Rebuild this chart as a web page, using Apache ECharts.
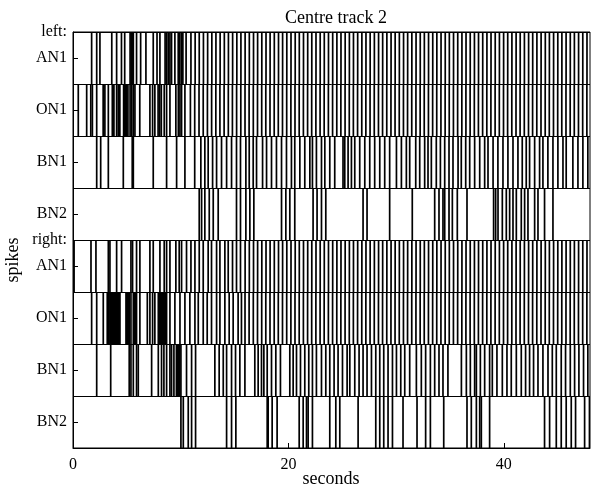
<!DOCTYPE html>
<html>
<head>
<meta charset="utf-8">
<script src="https://cdn.jsdelivr.net/npm/echarts@6/dist/echarts.min.js"></script>
<style>
html,body{margin:0;padding:0;background:#fff;}
#chart{width:599px;height:494px;}
</style>
</head>
<body>
<div id="chart"></div>
<script>
// Row labels (top to bottom) and group labels
const rowLabels = ['AN1', 'ON1', 'BN1', 'BN2', 'AN1', 'ON1', 'BN1', 'BN2'];
const groupLabels = ['left:', 'right:'];
const xTicks = [0, 20, 40];

// Spike times in seconds, one array per row
const leftAN1 = [1.73, 2.2, 2.5, 3.6, 4.05, 4.5, 4.8, 5.3, 5.4, 5.5, 5.6, 5.9, 6.28, 6.77, 7.45, 7.8, 8.07, 8.55, 8.7, 8.85, 9.0, 9.15, 9.46, 9.77, 9.9, 10.05, 10.2, 10.5,
  10.95, 11.34, 11.72, 12.11, 12.50, 12.89, 13.27, 13.66, 14.05, 14.43, 14.82, 15.21, 15.59, 15.98, 16.37, 16.76, 17.14, 17.53, 17.92, 18.30, 18.69, 19.08,
  19.46, 19.85, 20.24, 20.63, 21.01, 21.40, 21.79, 22.17, 22.56, 22.95, 23.33, 23.72, 24.11, 24.50, 24.88, 25.27, 25.66, 26.04, 26.43, 26.82, 27.20, 27.59,
  27.98, 28.37, 28.75, 29.14, 29.53, 29.91, 30.30, 30.69, 31.07, 31.46, 31.85, 32.24, 32.62, 33.01, 33.40, 33.78, 34.17, 34.56, 34.94, 35.33, 35.72, 36.11,
  36.49, 36.88, 37.27, 37.65, 38.04, 38.43, 38.81, 39.20, 39.59, 39.98, 40.36, 40.75, 41.14, 41.52, 41.91, 42.30, 42.68, 43.07, 43.46, 43.85, 44.23, 44.62,
  45.01, 45.39, 45.78, 46.17, 46.55, 46.94, 47.33, 47.72];

const leftON1 = [0.49, 1.27, 1.65, 1.8, 2.2, 2.8, 2.96, 3.28, 3.65, 3.72, 3.8, 4.05, 4.2, 4.35, 4.7, 4.8, 4.9, 5.0, 5.1, 5.3, 5.45, 5.6, 5.75, 6.2, 7.14, 7.39, 7.6,
  7.9, 8.05, 8.2, 8.47, 8.69, 9.0, 9.55, 9.78, 9.93, 10.08, 10.39,
  10.90, 11.30, 11.70, 12.09, 12.48, 12.87, 13.26, 13.64, 14.03, 14.42, 14.80, 15.19, 15.58, 15.97, 16.35, 16.74, 17.13, 17.52, 17.90, 18.29, 18.68, 19.06,
  19.45, 19.84, 20.23, 20.61, 21.00, 21.39, 21.78, 22.16, 22.55, 22.94, 23.32, 23.71, 24.10, 24.49, 24.87, 25.26, 25.65, 26.03, 26.42, 26.81, 27.19, 27.58,
  27.97, 28.36, 28.74, 29.13, 29.52, 29.90, 30.29, 30.68, 31.06, 31.45, 31.84, 32.23, 32.61, 33.00, 33.39, 33.77, 34.16, 34.55, 34.93, 35.32, 35.71, 36.10,
  36.48, 36.87, 37.26, 37.64, 38.03, 38.42, 38.80, 39.19, 39.58, 39.97, 40.35, 40.74, 41.13, 41.51, 41.90, 42.29, 42.67, 43.06, 43.45, 43.84, 44.22, 44.61,
  45.00, 45.38, 45.77, 46.16, 46.54, 46.93, 47.32, 47.71];

const leftBN1 = [2.2, 2.57, 3.28, 4.67, 5.5, 5.6, 7.45, 8.69, 9.62, 10.39, 11.3, 11.87, 12.24, 12.55, 12.96, 13.33, 13.79, 14.26, 14.72, 15.18, 15.55,
  16.05, 16.36, 16.73, 17.04, 17.6, 17.97, 18.43, 18.89, 19.36, 19.82, 20.28, 20.59, 21.06, 21.52, 21.99, 22.23, 22.6, 23.07, 23.38, 23.84, 24.3, 25.07,
  25.23, 25.54, 25.85, 26.16, 26.62, 27.09, 27.55, 28.01, 28.48, 28.94, 29.4, 30.03, 30.49, 30.95, 31.26,
  31.82, 32.19, 32.65, 32.96, 33.27, 33.73, 34.11, 34.51, 34.91, 35.28, 35.75, 36.05, 36.46, 36.83, 37.29, 37.76, 38.22, 38.53, 39.0, 39.45, 39.92,
  40.38, 40.85, 41.31, 41.71, 42.08, 42.39, 42.86, 43.32, 43.63, 44.09, 44.56, 45.02, 45.49, 45.79, 46.41, 46.88, 47.34, 47.8];

const leftBN2 = [11.72, 11.94, 12.24, 12.65, 13.02, 13.48, 15.18, 15.55, 16.05, 16.42, 16.79, 19.36, 19.76, 20.13, 20.59, 22.29, 22.66, 23.07, 23.47,
  26.93, 27.3, 29.4, 31.5, 33.58, 33.98, 34.35, 34.51, 34.91, 35.22, 35.68, 36.58, 39.05, 39.24, 39.46, 39.86, 40.23, 40.54, 40.85, 41.16, 41.62,
  41.93, 42.24, 42.86, 43.17, 43.78, 44.56];

const rightAN1 = [0.1, 1.67, 2.13, 3.28, 3.43, 4.05, 4.51, 5.38, 5.53, 5.9, 6.21, 7.14, 7.45, 8.07, 8.47, 8.69, 9.0, 9.55, 9.86, 10.08, 10.54,
  10.95, 11.32, 11.72, 12.09, 12.55, 12.86, 13.33, 13.64, 14.10, 14.41, 14.81, 15.18, 15.55, 15.98, 16.37, 16.76, 17.14, 17.53, 17.92, 18.30, 18.69, 19.08,
  19.46, 19.85, 20.24, 20.63, 21.01, 21.40, 21.79, 22.17, 22.56, 22.95, 23.33, 23.72, 24.11, 24.50, 24.88, 25.27, 25.66, 26.04, 26.43, 26.82, 27.20, 27.59,
  27.98, 28.37, 28.75, 29.14, 29.53, 29.91, 30.30, 30.69, 31.07, 31.46, 31.85, 32.24, 32.62, 33.01, 33.40, 33.78, 34.17, 34.56, 34.94, 35.33, 35.72, 36.11,
  36.49, 36.88, 37.27, 37.65, 38.04, 38.43, 38.81, 39.20, 39.59, 39.98, 40.36, 40.75, 41.14, 41.52, 41.91, 42.30, 42.68, 43.07, 43.46, 43.85, 44.23, 44.62,
  45.01, 45.39, 45.78, 46.17, 46.55, 46.94, 47.33, 47.72];

const rightON1 = [1.73, 2.2, 2.81, 3.18, 3.25, 3.32, 3.43, 3.5, 3.56, 3.62, 3.68, 3.74, 3.8, 3.86, 3.92, 4.05, 4.12, 4.2, 4.28, 4.36, 4.92, 5.0, 5.08,
  5.15, 5.22, 5.38, 5.6, 5.7, 5.8, 5.9, 6.21, 6.9, 7.14, 7.39, 7.6, 7.92, 7.98, 8.04, 8.1, 8.16, 8.22, 8.28, 8.34, 8.4, 8.46, 8.52, 8.58, 8.64, 8.69,
  9.0, 9.46, 9.93, 10.39,
  10.85, 11.32, 11.63, 12.09, 12.46, 12.86, 13.33, 13.64, 14.10, 14.50, 14.87, 15.33, 15.64, 15.97, 16.35, 16.74, 17.13, 17.52, 17.90, 18.29, 18.68, 19.06,
  19.45, 19.84, 20.23, 20.61, 21.00, 21.39, 21.78, 22.16, 22.55, 22.94, 23.32, 23.71, 24.10, 24.49, 24.87, 25.26, 25.65, 26.03, 26.42, 26.81, 27.19, 27.58,
  27.97, 28.36, 28.74, 29.13, 29.52, 29.90, 30.29, 30.68, 31.06, 31.45, 31.84, 32.23, 32.61, 33.00, 33.39, 33.77, 34.16, 34.55, 34.93, 35.32, 35.71, 36.10,
  36.48, 36.87, 37.26, 37.64, 38.03, 38.42, 38.80, 39.19, 39.58, 39.97, 40.35, 40.74, 41.13, 41.51, 41.90, 42.29, 42.67, 43.06, 43.45, 43.84, 44.22, 44.61,
  45.00, 45.38, 45.77, 46.16, 46.54, 46.93, 47.32, 47.71];

const rightBN1 = [2.2, 3.5, 5.22, 5.38, 5.6, 5.9, 6.06, 7.3, 7.92, 8.22, 8.44, 8.69, 9.0, 9.15, 9.37, 9.6, 9.7, 9.8, 9.9, 10.02, 10.54, 11.01, 11.38,
  13.17, 13.57, 13.95, 14.26, 14.72, 15.09, 15.49,
  15.96, 16.88, 17.19, 17.5, 17.72, 18.03, 18.43, 18.83, 19.26, 20.13, 20.44, 20.75, 21.12, 21.52, 21.89, 22.23, 22.6, 23.07, 23.47, 23.84, 24.24,
  24.61, 25.02, 25.45, 25.7, 26.16, 26.56, 26.93, 27.3, 27.71, 28.11, 28.48, 28.85, 29.25, 29.66, 30.03, 30.43, 30.8, 31.26,
  31.88, 32.34, 32.74, 33.18, 33.58, 33.98, 34.35, 34.81, 36.06, 36.52, 36.89, 37.29, 37.45, 37.82, 38.22, 38.68, 38.93, 39.36, 39.86, 40.29, 40.69,
  41.16, 41.62, 42.02, 42.39, 42.76, 43.17, 43.63, 44.1, 44.5, 44.87, 45.33, 45.73, 46.17, 46.57, 46.97, 47.4, 47.8];

const rightBN2 = [10.02, 10.24, 10.7, 11.01, 11.38, 14.26, 14.72, 15.12, 18.03, 18.12, 18.49, 18.95, 21.0, 21.37, 21.68, 21.83, 22.23, 23.84, 24.4,
  24.77, 26.47, 28.11, 28.48, 28.85, 29.25, 29.66, 30.64, 31.94, 32.74, 33.18, 34.42, 36.58, 36.98, 37.45, 37.76, 37.91, 38.68, 43.78, 44.25, 44.87,
  45.33, 45.79, 46.26, 46.66, 47.5, 47.95];

const rows = [leftAN1, leftON1, leftBN1, leftBN2, rightAN1, rightON1, rightBN1, rightBN2];

const spikeData = [];
rows.forEach(function (arr, r) {
  arr.forEach(function (t) { spikeData.push([t, r]); });
});

const FONT = 'Liberation Serif';
const chart = echarts.init(document.getElementById('chart'), null, { renderer: 'canvas' });

function yLabel(v) {
  if (Math.abs(v - 0) < 1e-6) return groupLabels[0];
  if (Math.abs(v - 4) < 1e-6) return groupLabels[1];
  const idx = v - 0.5;
  if (Math.abs(idx - Math.round(idx)) < 1e-6) {
    const i = Math.round(idx);
    if (i >= 0 && i < rowLabels.length) return rowLabels[i];
  }
  return '';
}

chart.setOption({
  animation: false,
  backgroundColor: '#fff',
  title: {
    text: 'Centre track 2',
    left: 331, top: 4, textAlign: 'center',
    textStyle: { fontFamily: FONT, fontSize: 18, fontWeight: 'normal', color: '#000' }
  },
  graphic: [{
    type: 'text', x: 13, y: 260, rotation: Math.PI / 2,
    style: { text: 'spikes', fontFamily: FONT, fontSize: 18, fill: '#000', textAlign: 'center', textVerticalAlign: 'middle' }
  }, {
    type: 'text', x: 331, y: 479,
    style: { text: 'seconds', fontFamily: FONT, fontSize: 18, fill: '#000', textAlign: 'center', textVerticalAlign: 'middle' }
  }],
  grid: { left: 73, right: 9, top: 32, bottom: 46, outerBoundsMode: 'none', containLabel: false,
    show: true, borderColor: '#000', borderWidth: 1, backgroundColor: 'transparent' },
  xAxis: {
    type: 'value', min: 0, max: 48, interval: 20,
    axisLine: { show: true, onZero: false, lineStyle: { color: '#000', width: 1 } },
    axisTick: { show: true, inside: true, length: 5, lineStyle: { color: '#000' } },
    axisLabel: { color: '#000', fontFamily: FONT, fontSize: 16, margin: 9, showMaxLabel: false,
      formatter: function (v) { return xTicks.indexOf(v) >= 0 ? String(v) : ''; } },
    splitLine: { show: false }
  },
  yAxis: [{
    type: 'value', min: 0, max: 8, interval: 0.5, inverse: true,
    axisLine: { show: true, onZero: false, lineStyle: { color: '#000', width: 1 } },
    axisTick: { show: true, inside: true, length: 5, lineStyle: { color: '#000' } },
    axisLabel: { color: '#000', fontFamily: FONT, fontSize: 16, margin: 6, formatter: yLabel },
    splitLine: { show: false }
  }, {
    type: 'value', min: 0, max: 8, interval: 1, inverse: true, position: 'left',
    axisLine: { show: false, onZero: false }, axisTick: { show: false }, axisLabel: { show: false },
    splitLine: { show: true, lineStyle: { color: '#000', width: 1 } }
  }],
  series: [{
    type: 'custom',
    xAxisIndex: 0, yAxisIndex: 0,
    data: spikeData,
    clip: true,
    renderItem: function (params, api) {
      const p0 = api.coord([api.value(0), api.value(1)]);
      const p1 = api.coord([api.value(0), api.value(1) + 1]);
      return {
        type: 'line',
        shape: { x1: p0[0], y1: p0[1], x2: p1[0], y2: p1[1] },
        style: { stroke: '#000', lineWidth: 1.7 }
      };
    }
  }]
});
</script>
</body>
</html>
